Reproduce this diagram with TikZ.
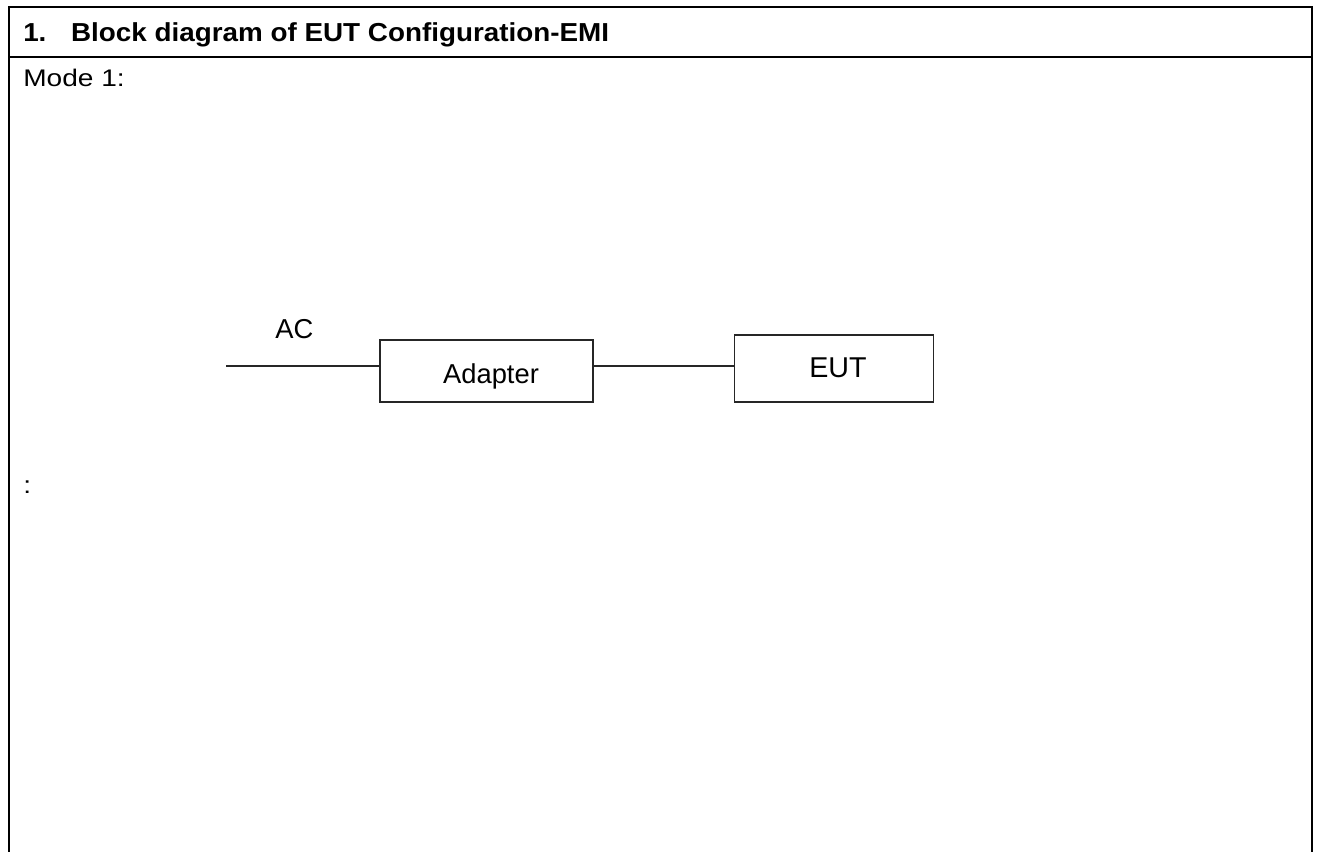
\documentclass[tikz,border=0pt]{standalone}
\usepackage{fontspec}
\setmainfont{Liberation Sans}
\newfontfamily\titlefont[FakeStretch=1.07]{Liberation Sans}
\newfontfamily\bodyfont[FakeStretch=1.17]{Liberation Sans}
\begin{document}
\begin{tikzpicture}[x=0.75pt,y=-0.75pt,
  frame/.style={line width=1.6pt,black},
  blk/.style={draw=black!85,line width=0.9pt,inner sep=0pt},
  wire/.style={draw=black!85,line width=1.1pt},
  txt/.style={inner sep=0pt,anchor=base west},
  body/.style={font=\bodyfont\fontsize{18pt}{21pt}\selectfont},
  diag/.style={inner sep=0pt,anchor=base,font=\fontsize{20.5pt}{24pt}\selectfont}]
\useasboundingbox (0,0) rectangle (1318,852);
% table frame
\draw[frame] (9,852) -- (9,7) -- (1312,7) -- (1312,852);
\draw[frame] (9,57) -- (1312,57);
\node[txt,font=\titlefont\fontsize{19.5pt}{22pt}\selectfont\bfseries] (title) at (23,42) {1.\hspace{0.95em}Block diagram of EUT Configuration-EMI};
\node[txt,body] (mode) at (23,87) {Mode 1:};
\node[txt,body] (colon) at (23,493) {:};
% blocks
\node[blk,minimum width=213.0*0.75pt,minimum height=62*0.75pt] (adapter) at (486.5,371) {};
\node[diag] (adtxt) at (491,383) {Adapter};
\node[blk,minimum width=199*0.75pt,minimum height=67*0.75pt] (eut) at (834,368.5) {};
\node[diag,font=\fontsize{21.5pt}{24pt}\selectfont] (euttxt) at (838,378) {EUT};
\coordinate (acend) at (226,366);
\node[txt,font=\fontsize{20.5pt}{24pt}\selectfont] (ac) at (275,339) {AC};
\draw[wire] (acend) -- (acend -| adapter.west);
\draw[wire] (adapter.east |- acend) -- (eut.west |- acend);
\end{tikzpicture}
\end{document}
